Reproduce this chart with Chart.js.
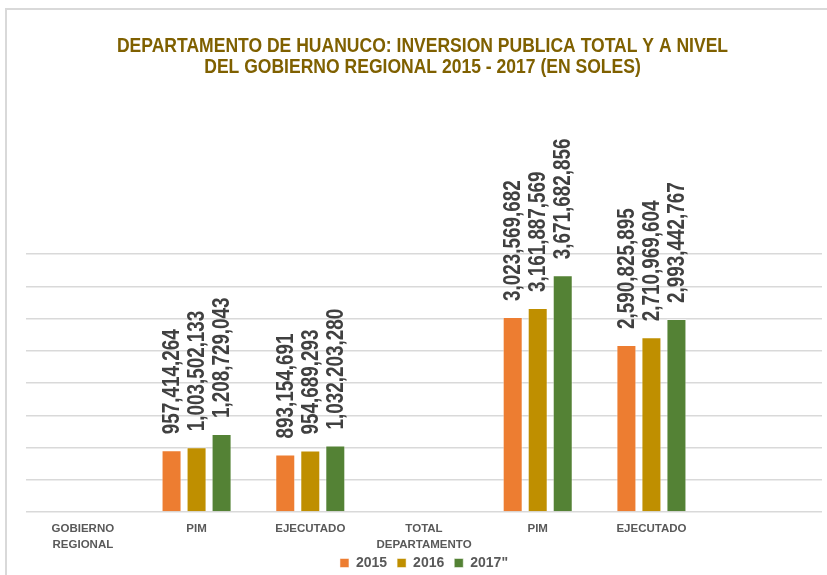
<!DOCTYPE html>
<html>
<head>
<meta charset="utf-8">
<script src="https://cdn.jsdelivr.net/npm/chart.js@4/dist/chart.umd.min.js"></script>
<style>
  html, body { margin: 0; padding: 0; background: #ffffff; overflow: hidden; }
  #wrap { position: absolute; left: 0; top: 0; width: 845px; height: 575px; }
  #frame { position: absolute; left: 5px; top: 8px; width: 900px; height: 700px;
           border-left: 2px solid #d9d9d9; border-top: 2px solid #d9d9d9; pointer-events: none; }
</style>
</head>
<body>
<div id="wrap"><canvas id="c" width="845" height="575"></canvas></div>
<div id="frame"></div>
<script>
const categories = [["GOBIERNO", "REGIONAL"], "PIM", "EJECUTADO", ["TOTAL", "DEPARTAMENTO"], "PIM", "EJECUTADO", ""];
const seriesNames = ["2015", "2016", "2017\""];
const values2015 = [null, 957414264, 893154691, null, 3023569682, 2590825895, null];
const values2016 = [null, 1003502133, 954689293, null, 3161887569, 2710969604, null];
const values2017 = [null, 1208729043, 1032203280, null, 3671682856, 2993442767, null];
const colors = ["#ED7D31", "#BF8F00", "#548235"];
const titleLines = ["DEPARTAMENTO DE HUANUCO: INVERSION PUBLICA TOTAL Y A NIVEL",
                    "DEL GOBIERNO REGIONAL 2015 - 2017 (EN SOLES)"];

const FONT = "'Liberation Sans', Arial, sans-serif";
const NARROW = 0.82; // emulate a narrow face

const titlePlugin = {
  id: 'narrowTitle',
  afterDraw(chart) {
    const ctx = chart.ctx;
    ctx.save();
    ctx.font = "bold 21px " + FONT;
    ctx.fillStyle = "#7F6000";
    ctx.textAlign = "center";
    ctx.textBaseline = "alphabetic";
    const cx = chart.width / 2;
    const baselines = [52, 73];
    titleLines.forEach((t, i) => {
      ctx.save();
      ctx.translate(cx, baselines[i]);
      ctx.scale(0.835, 1);
      ctx.fillText(t, 0, 0);
      ctx.restore();
    });
    ctx.restore();
  }
};

const dataLabels = {
  id: 'dataLabels',
  afterDatasetsDraw(chart) {
    const ctx = chart.ctx;
    ctx.save();
    ctx.font = "bold 23px " + FONT;
    ctx.fillStyle = "#404040";
    ctx.textAlign = "left";
    ctx.textBaseline = "middle";
    chart.data.datasets.forEach((ds, di) => {
      const meta = chart.getDatasetMeta(di);
      meta.data.forEach((el, i) => {
        const v = ds.data[i];
        if (v === null || v === undefined) return;
        ctx.save();
        ctx.translate(el.x + 1, el.y - 16);
        ctx.rotate(-Math.PI / 2);
        ctx.scale(NARROW, 1);
        ctx.fillText(v.toLocaleString('en-US'), 0, 0);
        ctx.restore();
      });
    });
    ctx.restore();
  }
};

new Chart(document.getElementById('c'), {
  type: 'bar',
  data: {
    labels: categories,
    datasets: [
      { label: seriesNames[0], data: values2015, backgroundColor: colors[0], borderColor: "rgba(255,255,255,0.5)", borderWidth: 1 },
      { label: seriesNames[1], data: values2016, backgroundColor: colors[1], borderColor: "rgba(255,255,255,0.5)", borderWidth: 1 },
      { label: seriesNames[2], data: values2017, backgroundColor: colors[2], borderColor: "rgba(255,255,255,0.5)", borderWidth: 1 }
    ]
  },
  options: {
    responsive: false,
    animation: false,
    devicePixelRatio: 1,
    layout: { padding: { left: 26, right: 23, top: 254, bottom: -5 } },
    datasets: { bar: { categoryPercentage: 0.66, barPercentage: 0.8 } },
    plugins: {
      title: { display: false },
      legend: {
        position: 'bottom',
        labels: {
          color: "#595959",
          font: { family: FONT, size: 14, weight: 'bold' },
          boxWidth: 9, boxHeight: 9, padding: 10
        }
      },
      tooltip: { enabled: false }
    },
    scales: {
      x: {
        grid: { display: false, drawTicks: false },
        border: { display: false },
        afterFit(scale) {
          scale.height = 34;
          scale._computeLabelArea = function () { return undefined; };
        },
        ticks: {
          color: "#595959",
          font: { family: FONT, size: 11.5, weight: 'bold', lineHeight: 1.45 },
          maxRotation: 0, autoSkip: false, padding: 8
        }
      },
      y: {
        min: 0, max: 4000000000,
        ticks: { display: false, stepSize: 500000000 },
        grid: { color: "#d9d9d9", lineWidth: 1.5, drawTicks: false },
        border: { display: false }
      }
    }
  },
  plugins: [dataLabels, titlePlugin]
});
</script>
</body>
</html>
